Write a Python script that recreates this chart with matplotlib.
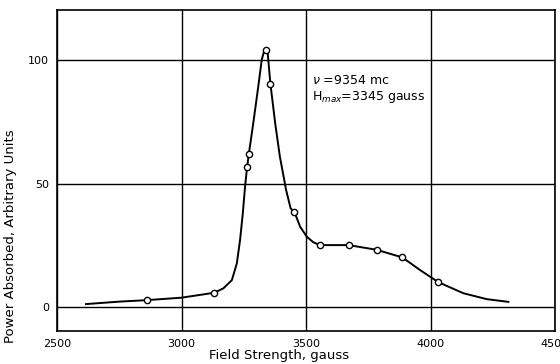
import matplotlib.pyplot as plt

# measured points (open circles)
field_pts = [2861, 3132, 3263, 3270, 3338, 3357, 3453, 3556, 3671, 3784, 3887, 4031]
power_pts = [2.8, 5.8, 56.9, 61.9, 104.3, 90.3, 38.4, 25.1, 25.1, 23.2, 20.1, 10.1]

# hand-drawn smooth curve
curve_field = [2616, 2750, 2861, 3000, 3132, 3168, 3202, 3222, 3235, 3246, 3255,
               3262, 3270, 3288, 3308, 3322, 3331, 3338, 3346, 3353, 3357, 3376,
               3395, 3420, 3438, 3454, 3476, 3503, 3530, 3556, 3671, 3784, 3887,
               3958, 4031, 4132, 4226, 4313]
curve_power = [1.2, 2.2, 2.8, 3.8, 5.8, 7.6, 10.9, 17.7, 27.2, 38.0, 48.8,
               55.6, 61.9, 74.5, 89.3, 100.2, 103.5, 104.5, 102.9, 94.8, 90.4, 74.5,
               60.9, 47.4, 40.0, 38.4, 32.6, 28.5, 26.2, 25.1, 25.1, 23.2, 20.1,
               15.0, 10.1, 5.6, 3.2, 2.1]

plt.rcParams['font.family'] = ['DejaVu Sans']

fig = plt.figure(figsize=(5.6, 3.64), dpi=100)
ax = fig.add_axes([0.102, 0.0907, 0.889, 0.882])

ax.plot(curve_field, curve_power, color='black', lw=1.4, zorder=3)
ax.plot(field_pts, power_pts, 'o', mfc='white', mec='black', ms=4.5, mew=1.0, zorder=4)

ax.set_xlim(2500, 4500)
ax.set_ylim(-9.7, 120.4)
ax.set_xticks([2500, 3000, 3500, 4000, 4500])
ax.set_yticks([0, 50, 100])
ax.tick_params(length=0, labelsize=8, pad=6)
ax.grid(True, color='black', lw=1.0)
for s in ax.spines.values():
    s.set_linewidth(1.2)

ax.set_xlabel("Field Strength, gauss", fontsize=9.5)
ax.set_ylabel("Power Absorbed, Arbitrary Units", fontsize=9.5)
ax.xaxis.set_label_coords(0.446, -0.055)
ax.yaxis.set_label_coords(-0.08, 0.296)

ax.text(3522, 92, r"$\nu$ =9354 mc", fontsize=9, va='center')
ax.text(3522, 85, r"H$_{max}$=3345 gauss", fontsize=9, va='center')

plt.savefig("out.png", dpi=100)
